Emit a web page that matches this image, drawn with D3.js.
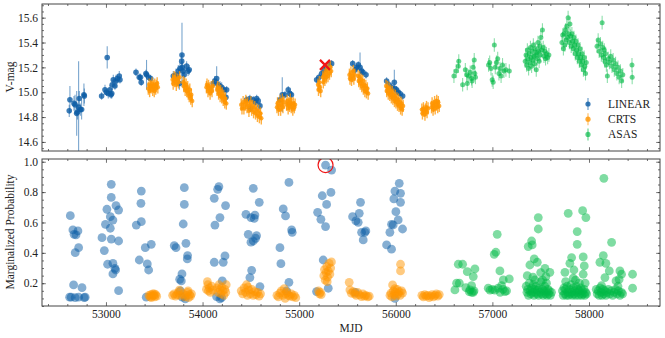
<!DOCTYPE html>
<html>
<head>
<meta charset="utf-8">
<script src="https://cdn.jsdelivr.net/npm/d3@7"></script>
<style>
  body { margin: 0; background: #fff; }
  text { font-family: "Liberation Serif", "DejaVu Serif", serif; fill: #222; }
</style>
</head>
<body>
<svg id="chart" width="665" height="338"></svg>
<script>
// tick labels
const xTicks = [53000, 54000, 55000, 56000, 57000, 58000];
const magTicks = [14.6, 14.8, 15.0, 15.2, 15.4, 15.6];
const probTicks = [0.2, 0.4, 0.6, 0.8, 1.0];
const surveys = ['LINEAR', 'CRTS', 'ASAS'];

// light curves: [mjd, V-mag, err]
const linearMag = [
  [52620, 14.85, 0.05], [52627, 14.94, 0.11], [52669, 14.91, 0.06], [52680, 14.90, 0.08],
  [52697, 14.83, 0.18], [52705, 14.84, 0.06], [52717, 14.88, 0.37], [52724, 14.95, 0.06],
  [52735, 14.86, 0.05], [52748, 14.86, 0.08], [52772, 14.98, 0.09], [52776, 14.97, 0.06],
  [52955, 14.97, 0.03], [52990, 15.02, 0.04], [53005, 15.00, 0.03], [53013, 15.28, 0.09],
  [53024, 14.99, 0.04], [53041, 15.02, 0.04], [53052, 14.98, 0.03], [53060, 14.99, 0.04],
  [53065, 15.06, 0.04], [53076, 15.10, 0.04], [53093, 15.05, 0.03], [53104, 15.09, 0.05],
  [53117, 15.11, 0.03], [53138, 15.13, 0.04], [53145, 15.10, 0.03],
  [53311, 15.16, 0.03], [53345, 15.12, 0.03], [53358, 15.12, 0.03], [53365, 15.08, 0.03],
  [53414, 15.15, 0.03], [53420, 15.14, 0.12], [53442, 15.12, 0.03], [53463, 15.11, 0.03],
  [53697, 15.13, 0.04], [53725, 15.14, 0.05], [53735, 15.12, 0.04], [53749, 15.17, 0.05],
  [53760, 15.07, 0.05], [53766, 15.19, 0.05], [53784, 15.25, 0.06], [53787, 15.30, 0.26],
  [53790, 15.20, 0.05], [53800, 15.17, 0.04], [53810, 15.14, 0.05], [53835, 15.21, 0.04],
  [53850, 15.17, 0.04], [53862, 15.18, 0.04],
  [54111, 15.07, 0.04], [54127, 15.09, 0.04], [54146, 15.11, 0.10], [54163, 15.06, 0.04],
  [54180, 15.05, 0.04], [54198, 15.04, 0.04], [54222, 15.02, 0.03], [54242, 14.96, 0.04],
  [54249, 15.02, 0.03],
  [54456, 14.94, 0.03], [54490, 14.95, 0.03], [54495, 14.87, 0.03], [54525, 14.94, 0.03],
  [54545, 14.92, 0.03], [54560, 14.95, 0.03], [54576, 14.93, 0.03], [54594, 14.89, 0.03],
  [54801, 14.94, 0.03], [54825, 14.98, 0.14], [54853, 14.98, 0.03], [54887, 15.02, 0.03],
  [54904, 14.99, 0.03], [54920, 14.98, 0.03],
  [55181, 15.10, 0.03], [55205, 15.12, 0.03], [55233, 15.15, 0.03], [55260, 15.18, 0.03],
  [55284, 15.19, 0.03], [55308, 15.22, 0.03], [55336, 15.23, 0.03],
  [55554, 15.23, 0.03], [55580, 15.18, 0.03], [55596, 15.20, 0.03], [55612, 15.22, 0.03],
  [55630, 15.20, 0.12], [55647, 15.17, 0.03], [55660, 15.16, 0.03], [55692, 15.14, 0.03],
  [55905, 15.09, 0.03], [55930, 15.06, 0.03], [55957, 15.04, 0.03], [55985, 15.08, 0.10],
  [55990, 15.03, 0.03], [56009, 15.02, 0.03], [56025, 15.00, 0.03], [56043, 14.99, 0.03],
  [56071, 14.97, 0.03],
];

const crtsErr = 0.05;
const crtsMag = [
  [53438, 15.03], [53447, 15.06], [53452, 15.01], [53463, 15.05], [53468, 15.04], [53478, 15.07],
  [53484, 15.02], [53493, 15.05], [53500, 15.01], [53505, 15.06], [53515, 15.03], [53520, 15.05],
  [53530, 15.07], [53537, 15.04],
  [53690, 15.10], [53696, 15.07], [53706, 15.12], [53712, 15.09], [53722, 15.11], [53728, 15.06],
  [53740, 15.10], [53750, 15.08], [53762, 15.12], [53800, 15.08], [53806, 15.05], [53815, 15.07],
  [53820, 15.02], [53830, 15.06], [53836, 15.01], [53846, 15.04], [53852, 14.99], [53862, 14.97],
  [53868, 15.02], [53878, 14.95], [53884, 14.98], [53893, 14.93],
  [54040, 15.04], [54046, 15.06], [54056, 15.01], [54062, 15.05], [54072, 15.03], [54078, 14.99],
  [54090, 15.04], [54098, 15.01], [54108, 15.05], [54150, 15.02], [54156, 15.04], [54166, 14.99],
  [54172, 15.03], [54182, 14.97], [54188, 15.01], [54198, 14.96], [54204, 14.99], [54214, 14.94],
  [54220, 14.97], [54230, 14.92], [54236, 14.95], [54246, 14.91],
  [54400, 14.90], [54408, 14.87], [54420, 14.92], [54428, 14.87], [54440, 14.90], [54448, 14.93],
  [54460, 14.88], [54468, 14.91], [54480, 14.85], [54488, 14.89], [54500, 14.92], [54508, 14.86],
  [54520, 14.89], [54528, 14.84], [54540, 14.88], [54548, 14.83], [54560, 14.86], [54568, 14.81],
  [54580, 14.85], [54588, 14.80], [54600, 14.83], [54608, 14.79],
  [54770, 14.88], [54776, 14.91], [54786, 14.86], [54792, 14.89], [54802, 14.93], [54808, 14.86],
  [54818, 14.90], [54826, 14.94], [54832, 14.88], [54842, 14.92], [54870, 14.90], [54876, 14.93],
  [54886, 14.87], [54892, 14.91], [54902, 14.89], [54908, 14.94], [54918, 14.88], [54924, 14.91],
  [54934, 14.86], [54940, 14.91], [54950, 14.88], [54958, 14.90],
  [55195, 15.06], [55200, 15.02], [55209, 15.08], [55214, 15.04], [55223, 15.01], [55245, 15.12],
  [55250, 15.08], [55260, 15.14], [55266, 15.10], [55276, 15.16], [55282, 15.12], [55292, 15.18],
  [55298, 15.13], [55308, 15.19], [55314, 15.15], [55324, 15.20], [55332, 15.17],
  [55520, 15.14], [55526, 15.11], [55536, 15.16], [55542, 15.10], [55552, 15.13], [55560, 15.17],
  [55566, 15.11], [55576, 15.14], [55610, 15.13], [55616, 15.09], [55626, 15.12], [55632, 15.07],
  [55642, 15.10], [55648, 15.05], [55658, 15.09], [55664, 15.03], [55674, 15.06], [55680, 15.01],
  [55690, 15.05], [55696, 15.00], [55706, 15.03], [55714, 14.99],
  [55900, 15.05], [55906, 15.01], [55916, 15.04], [55922, 14.99], [55932, 15.03], [55938, 14.98],
  [55948, 15.01], [55954, 14.96], [55964, 15.00], [55970, 14.95], [55980, 14.98], [55986, 14.93],
  [55996, 14.97], [56002, 14.92], [56012, 14.95], [56018, 14.90], [56028, 14.94], [56034, 14.89],
  [56044, 14.92], [56050, 14.87], [56060, 14.91], [56066, 14.86], [56076, 14.89],
  [56270, 14.86], [56276, 14.83], [56286, 14.87], [56292, 14.85], [56302, 14.82], [56308, 14.86],
  [56318, 14.88], [56324, 14.84], [56334, 14.87], [56370, 14.88], [56376, 14.91], [56386, 14.86],
  [56392, 14.89], [56402, 14.92], [56408, 14.87], [56418, 14.90], [56424, 14.93], [56434, 14.88],
  [56440, 14.92], [56450, 14.89],
];

const asasErr = 0.055;
const asasMag = [
  [56602, 15.13], [56625, 15.17], [56647, 15.21], [56652, 15.25], [56692, 15.06], [56720, 15.18],
  [56734, 15.14], [56740, 15.07], [56755, 15.13], [56770, 15.16], [56785, 15.11], [56790, 15.09],
  [56800, 15.20], [56812, 15.26], [56818, 15.15], [56825, 15.12],
  [56960, 15.22], [56972, 15.24], [56985, 15.19], [56998, 15.10], [57008, 15.08], [57020, 15.38],
  [57030, 15.20], [57042, 15.24], [57055, 15.27], [57068, 15.15], [57078, 15.19], [57090, 15.13],
  [57105, 15.22], [57120, 15.17], [57140, 15.18], [57175, 15.17],
  [57340, 15.25], [57348, 15.30], [57355, 15.22], [57362, 15.34], [57368, 15.27], [57375, 15.19],
  [57380, 15.31], [57388, 15.24], [57394, 15.36], [57400, 15.28], [57406, 15.21], [57412, 15.33],
  [57418, 15.26], [57424, 15.38], [57430, 15.29], [57436, 15.23], [57442, 15.35], [57448, 15.30],
  [57454, 15.18], [57460, 15.32], [57466, 15.27], [57472, 15.40], [57478, 15.33], [57484, 15.25],
  [57490, 15.37], [57496, 15.30], [57502, 15.44], [57510, 15.34], [57518, 15.50], [57526, 15.36],
  [57534, 15.29], [57542, 15.33], [57550, 15.27], [57560, 15.31], [57572, 15.28], [57585, 15.30],
  [57720, 15.40], [57728, 15.46], [57735, 15.35], [57742, 15.47], [57750, 15.38], [57757, 15.50],
  [57764, 15.42], [57770, 15.53], [57777, 15.44], [57784, 15.60], [57790, 15.47], [57797, 15.40],
  [57803, 15.55], [57810, 15.45], [57816, 15.37], [57823, 15.47], [57830, 15.41], [57837, 15.35],
  [57844, 15.44], [57851, 15.38], [57858, 15.31], [57865, 15.41], [57872, 15.34], [57879, 15.28],
  [57886, 15.38], [57893, 15.31], [57900, 15.25], [57907, 15.35], [57914, 15.28], [57921, 15.22],
  [57928, 15.31], [57935, 15.25], [57942, 15.18], [57950, 15.28], [57957, 15.21], [57964, 15.15],
  [57972, 15.24],
  [58083, 15.37], [58095, 15.42], [58105, 15.33], [58118, 15.39], [58128, 15.30], [58136, 15.56],
  [58142, 15.36], [58150, 15.28], [58158, 15.34], [58165, 15.25], [58172, 15.31], [58180, 15.22],
  [58190, 15.13], [58200, 15.27], [58212, 15.24], [58225, 15.29], [58238, 15.21], [58250, 15.26],
  [58262, 15.18], [58275, 15.23], [58288, 15.15], [58300, 15.20], [58312, 15.12], [58325, 15.17],
  [58338, 15.09], [58350, 15.14],
  [58445, 15.22], [58447, 15.12],
];

// marginalized probability: [mjd, prob]
const linearProb = [
  [52631, 0.645], [52658, 0.551], [52670, 0.522], [52710, 0.544], [52690, 0.518], [52717, 0.434],
  [52682, 0.401], [52665, 0.189], [52752, 0.171], [52624, 0.108], [52640, 0.108], [52682, 0.105],
  [52717, 0.108], [52775, 0.105], [52785, 0.108],
  [53055, 0.851], [53055, 0.765], [53010, 0.687], [53045, 0.638], [53104, 0.711], [53131, 0.682],
  [53072, 0.616], [52995, 0.588], [53045, 0.562], [52959, 0.500], [53055, 0.491], [53131, 0.478],
  [52983, 0.415], [53017, 0.325], [53072, 0.331], [53093, 0.298], [53100, 0.287], [53072, 0.261],
  [53131, 0.151],
  [53366, 0.807], [53362, 0.726], [53366, 0.605], [53314, 0.583], [53407, 0.434], [53469, 0.456],
  [53345, 0.353], [53428, 0.327], [53442, 0.287], [53417, 0.108],
  [53811, 0.829], [53811, 0.719], [53800, 0.590], [53707, 0.448], [53725, 0.434], [53828, 0.463],
  [53845, 0.382], [53842, 0.360], [53787, 0.261], [53763, 0.226], [53780, 0.215], [53770, 0.149],
  [53821, 0.097], [53790, 0.108],
  [54169, 0.836], [54156, 0.818], [54121, 0.759], [54238, 0.711], [54180, 0.632], [54128, 0.583],
  [54121, 0.338], [54214, 0.338], [54232, 0.380], [54204, 0.215], [54145, 0.112], [54180, 0.097],
  [54197, 0.105],
  [54525, 0.825], [54587, 0.733], [54449, 0.654], [54542, 0.649], [54501, 0.632], [54535, 0.627],
  [54473, 0.522], [54559, 0.513], [54549, 0.496], [54525, 0.478], [54501, 0.470], [54508, 0.285],
  [54490, 0.237], [54594, 0.178],
  [54894, 0.864], [54835, 0.689], [54859, 0.643], [54922, 0.551], [54928, 0.535], [54801, 0.434],
  [54811, 0.329], [54894, 0.206], [54870, 0.149],
  [55273, 0.978], [55336, 0.945], [55329, 0.798], [55239, 0.776], [55284, 0.719], [55191, 0.667],
  [55225, 0.621], [55273, 0.573], [55249, 0.353], [55301, 0.167], [55180, 0.145],
  [55635, 0.733], [55622, 0.660], [55553, 0.638], [55587, 0.610], [55611, 0.601], [55646, 0.535],
  [55680, 0.535], [55690, 0.544], [55663, 0.485], [55580, 0.140],
  [56036, 0.858], [55991, 0.807], [56049, 0.792], [55980, 0.755], [56049, 0.733], [56001, 0.671],
  [56025, 0.617], [55956, 0.588], [55973, 0.584], [56070, 0.557], [55939, 0.535], [55905, 0.452],
  [55956, 0.424], [55991, 0.100],
];

const crtsProb = [
  [53445, 0.12], [53455, 0.11], [53465, 0.125], [53475, 0.115], [53485, 0.13], [53495, 0.12],
  [53505, 0.11], [53515, 0.125], [53525, 0.115], [53470, 0.105], [53500, 0.13],
  [53690, 0.12], [53705, 0.13], [53720, 0.115], [53735, 0.125], [53750, 0.14], [53765, 0.12],
  [53800, 0.13], [53815, 0.11], [53830, 0.12], [53845, 0.14], [53855, 0.105], [53865, 0.125],
  [53875, 0.115], [53885, 0.13], [53760, 0.155], [53850, 0.15],
  [54040, 0.16], [54050, 0.21], [54055, 0.19], [54060, 0.15], [54070, 0.17], [54080, 0.14],
  [54095, 0.18], [54105, 0.155], [54150, 0.17], [54160, 0.14], [54170, 0.19], [54180, 0.16],
  [54190, 0.13], [54200, 0.175], [54210, 0.15], [54220, 0.12], [54230, 0.16], [54240, 0.14],
  [54245, 0.19],
  [54400, 0.15], [54415, 0.13], [54430, 0.17], [54445, 0.14], [54455, 0.19], [54465, 0.12],
  [54480, 0.155], [54495, 0.13], [54510, 0.16], [54525, 0.12], [54540, 0.145], [54555, 0.125],
  [54570, 0.14], [54585, 0.115], [54600, 0.13], [54470, 0.175],
  [54770, 0.12], [54785, 0.11], [54800, 0.135], [54815, 0.15], [54830, 0.12], [54845, 0.165],
  [54860, 0.13], [54875, 0.14], [54890, 0.12], [54905, 0.115], [54920, 0.13], [54935, 0.11],
  [54950, 0.12], [54965, 0.105], [54855, 0.10],
  [55200, 0.15], [55210, 0.13], [55220, 0.14], [55228, 0.125], [55255, 0.25], [55262, 0.29],
  [55270, 0.22], [55278, 0.27], [55286, 0.31], [55294, 0.24], [55302, 0.28], [55310, 0.33],
  [55318, 0.26], [55326, 0.30], [55334, 0.34], [55290, 0.21],
  [55518, 0.206], [55525, 0.156], [55540, 0.134], [55560, 0.145], [55575, 0.13], [55590, 0.12],
  [55605, 0.14], [55625, 0.123], [55645, 0.112], [55660, 0.13], [55675, 0.115], [55690, 0.12],
  [55710, 0.11], [55725, 0.115],
  [55967, 0.189], [56049, 0.325], [56049, 0.281], [55940, 0.12], [55950, 0.135], [55960, 0.11],
  [55975, 0.15], [55985, 0.125], [55995, 0.14], [56005, 0.115], [56015, 0.16], [56025, 0.13],
  [56035, 0.145], [56045, 0.12], [56060, 0.15], [56070, 0.135], [55990, 0.165],
  [56270, 0.12], [56285, 0.11], [56300, 0.125], [56315, 0.115], [56330, 0.12], [56345, 0.105],
  [56360, 0.115], [56375, 0.125], [56390, 0.11], [56405, 0.12], [56420, 0.13], [56435, 0.115],
  [56450, 0.125],
];

const asasProb = [
  [56647, 0.325], [56692, 0.325], [56740, 0.276], [56819, 0.294], [56802, 0.244], [56630, 0.200],
  [56658, 0.200], [56612, 0.156], [56726, 0.171], [56785, 0.184], [56768, 0.156], [56785, 0.140],
  [56802, 0.140], [56760, 0.145], [56810, 0.150],
  [57050, 0.522], [57019, 0.390], [57036, 0.404], [57078, 0.281], [57175, 0.228], [57113, 0.222],
  [56957, 0.167], [56975, 0.155], [57025, 0.155], [57060, 0.167], [57095, 0.184], [57130, 0.145],
  [57147, 0.150], [57000, 0.160], [57080, 0.140], [57110, 0.160],
  [57475, 0.632], [57475, 0.557], [57406, 0.478], [57371, 0.441], [57412, 0.452], [57433, 0.360],
  [57388, 0.320], [57465, 0.338], [57544, 0.298], [57595, 0.272], [57554, 0.244], [57361, 0.250],
  [57440, 0.222], [57350, 0.18], [57358, 0.14], [57366, 0.16], [57374, 0.12], [57382, 0.20],
  [57390, 0.15], [57398, 0.13], [57406, 0.17], [57414, 0.14], [57422, 0.19], [57430, 0.12],
  [57438, 0.16], [57446, 0.14], [57454, 0.18], [57462, 0.13], [57470, 0.155], [57478, 0.12],
  [57486, 0.17], [57494, 0.14], [57502, 0.21], [57510, 0.13], [57518, 0.16], [57526, 0.12],
  [57534, 0.15], [57542, 0.18], [57550, 0.13], [57558, 0.145], [57566, 0.12], [57574, 0.16],
  [57582, 0.13], [57590, 0.15], [57600, 0.12], [57612, 0.14], [57500, 0.27], [57420, 0.24],
  [57520, 0.22], [57560, 0.20],
  [57785, 0.660], [57934, 0.678], [57968, 0.632], [57878, 0.540], [57878, 0.456], [57820, 0.369],
  [57940, 0.373], [57802, 0.331], [57844, 0.287], [57951, 0.314], [57751, 0.272], [57940, 0.259],
  [57837, 0.233], [57758, 0.211], [57960, 0.200], [57725, 0.15], [57733, 0.12], [57741, 0.17],
  [57749, 0.13], [57757, 0.16], [57765, 0.12], [57773, 0.18], [57781, 0.14], [57789, 0.12],
  [57797, 0.16], [57805, 0.13], [57813, 0.19], [57821, 0.14], [57829, 0.12], [57837, 0.17],
  [57845, 0.13], [57853, 0.15], [57861, 0.12], [57869, 0.18], [57877, 0.14], [57885, 0.16],
  [57893, 0.12], [57901, 0.15], [57909, 0.13], [57917, 0.17], [57925, 0.12], [57933, 0.15],
  [57941, 0.13], [57949, 0.16], [57957, 0.12], [57965, 0.14], [57975, 0.13], [57860, 0.22],
  [57900, 0.20],
  [58154, 0.891], [58234, 0.469], [58148, 0.382], [58113, 0.338], [58175, 0.331], [58210, 0.281],
  [58320, 0.281], [58337, 0.259], [58165, 0.237], [58280, 0.215], [58312, 0.225], [58130, 0.184],
  [58075, 0.16], [58085, 0.13], [58095, 0.15], [58105, 0.12], [58115, 0.17], [58125, 0.14],
  [58135, 0.12], [58145, 0.16], [58155, 0.13], [58165, 0.15], [58175, 0.12], [58185, 0.14],
  [58200, 0.16], [58215, 0.13], [58230, 0.15], [58245, 0.12], [58260, 0.14], [58275, 0.16],
  [58290, 0.13], [58305, 0.15], [58320, 0.12], [58335, 0.14], [58348, 0.13], [58300, 0.18],
  [58451, 0.259], [58451, 0.167],
];

// flagged epoch (red cross on top, red ring on bottom)
const flagMag = [55267, 15.22];
const flagProb = [55273, 0.978];

const COLORS = { LINEAR: '#0C5DA5', CRTS: '#FF9500', ASAS: '#00B945' };

const svg = d3.select('#chart');

const x = d3.scaleLinear().domain([52338, 58735]).range([42, 660]);
const yMag = d3.scaleLinear().domain([14.527, 15.71]).range([151, 4]);
const yProb = d3.scaleLinear().domain([0.05, 1.018]).range([306, 159]);

const xMinor = d3.range(52400, 58736, 200).filter(v => v % 1000 !== 0);
const magMinor = d3.range(14.55, 15.71, 0.05);
const probMinor = d3.range(0.05, 1.01, 0.05);

function drawFrame(g, y, yMajor, yMinor, showXLabels) {
  const [x0, x1] = x.range();
  const [yb, yt] = y.range();

  const axes = [
    { make: d3.axisBottom, scale: x, pos: `translate(0,${yb})`, major: xTicks, minor: xMinor,
      fmt: showXLabels ? d3.format('d') : () => '' },
    { make: d3.axisTop, scale: x, pos: `translate(0,${yt})`, major: xTicks, minor: xMinor, fmt: () => '' },
    { make: d3.axisLeft, scale: y, pos: `translate(${x0},0)`, major: yMajor, minor: yMinor,
      fmt: d3.format('.1f') },
    { make: d3.axisRight, scale: y, pos: `translate(${x1},0)`, major: yMajor, minor: yMinor, fmt: () => '' },
  ];

  axes.forEach(a => {
    g.append('g')
      .attr('transform', a.pos)
      .call(a.make(a.scale).tickValues(a.minor).tickSize(-2).tickFormat(''))
      .call(s => s.select('.domain').remove());
    g.append('g')
      .attr('transform', a.pos)
      .call(a.make(a.scale).tickValues(a.major).tickSize(-3.8).tickPadding(4).tickFormat(a.fmt))
      .call(s => s.select('.domain').remove());
  });

  g.selectAll('.tick line').attr('stroke', '#333').attr('stroke-width', 0.7);
  g.selectAll('.tick text')
    .attr('font-family', '"Liberation Serif", serif')
    .attr('font-size', 11.5)
    .attr('fill', '#222');

  g.append('rect')
    .attr('x', x0).attr('y', yt)
    .attr('width', x1 - x0).attr('height', yb - yt)
    .attr('fill', 'none')
    .attr('stroke', '#444')
    .attr('stroke-width', 1);
}

function errorbars(g, data, y, err, color, r, opts) {
  const grp = g.append('g');
  grp.selectAll('line')
    .data(data)
    .join('line')
    .attr('x1', d => x(d[0])).attr('x2', d => x(d[0]))
    .attr('y1', d => y(d[1] - (d[2] !== undefined ? d[2] : err)))
    .attr('y2', d => y(d[1] + (d[2] !== undefined ? d[2] : err)))
    .attr('stroke', color)
    .attr('stroke-width', opts.lw)
    .attr('stroke-opacity', opts.barAlpha);
  grp.selectAll('circle')
    .data(data)
    .join('circle')
    .attr('cx', d => x(d[0]))
    .attr('cy', d => y(d[1]))
    .attr('r', r)
    .attr('fill', color)
    .attr('fill-opacity', opts.alpha);
}

function scatter(g, data, y, color, r, alpha) {
  g.append('g').selectAll('circle')
    .data(data)
    .join('circle')
    .attr('cx', d => x(d[0]))
    .attr('cy', d => y(d[1]))
    .attr('r', r)
    .attr('fill', color)
    .attr('fill-opacity', alpha);
}

// top panel: light curve
const topPanel = svg.append('g');
svg.append('clipPath').attr('id', 'clipTop')
  .append('rect').attr('x', 42).attr('y', 4).attr('width', 618).attr('height', 147);
const topPlot = topPanel.append('g').attr('clip-path', 'url(#clipTop)');

errorbars(topPlot, linearMag, yMag, 0.03, COLORS.LINEAR, 2.8, { lw: 1.1, barAlpha: 0.55, alpha: 0.8 });
errorbars(topPlot, crtsMag, yMag, crtsErr, COLORS.CRTS, 2.2, { lw: 1.4, barAlpha: 0.75, alpha: 0.8 });
errorbars(topPlot, asasMag, yMag, asasErr, COLORS.ASAS, 2.5, { lw: 1.1, barAlpha: 0.45, alpha: 0.6 });

// red cross
const cx = x(flagMag[0]), cy = yMag(flagMag[1]);
topPlot.append('path')
  .attr('d', `M${cx - 5},${cy - 5}L${cx + 5},${cy + 5}M${cx - 5},${cy + 5}L${cx + 5},${cy - 5}`)
  .attr('stroke', '#f01414')
  .attr('stroke-width', 2.2);

drawFrame(topPanel, yMag, magTicks, magMinor, false);

// legend
const legend = topPanel.append('g');
surveys.forEach((name, i) => {
  const ly = 104 + i * 15.2;
  const c = COLORS[name];
  legend.append('line')
    .attr('x1', 588).attr('x2', 588).attr('y1', ly - 6).attr('y2', ly + 6)
    .attr('stroke', c).attr('stroke-width', 1.3).attr('stroke-opacity', 0.55);
  legend.append('circle')
    .attr('cx', 588).attr('cy', ly).attr('r', 2.6)
    .attr('fill', c).attr('fill-opacity', name === 'ASAS' ? 0.65 : 0.8);
  legend.append('text')
    .attr('x', 608).attr('y', ly + 4)
    .attr('font-size', 11.5)
    .text(name);
});

// bottom panel: probabilities
const botPanel = svg.append('g');
svg.append('clipPath').attr('id', 'clipBot')
  .append('rect').attr('x', 42).attr('y', 159).attr('width', 618).attr('height', 147);
const botPlot = botPanel.append('g').attr('clip-path', 'url(#clipBot)');

scatter(botPlot, linearProb, yProb, COLORS.LINEAR, 4.4, 0.5);
scatter(botPlot, crtsProb, yProb, COLORS.CRTS, 4.4, 0.5);
scatter(botPlot, asasProb, yProb, COLORS.ASAS, 4.4, 0.5);

botPlot.append('circle')
  .attr('cx', x(flagProb[0]))
  .attr('cy', yProb(flagProb[1]))
  .attr('r', 7.5)
  .attr('fill', 'none')
  .attr('stroke', '#f01414')
  .attr('stroke-width', 1.2);

drawFrame(botPanel, yProb, probTicks, probMinor, true);

// axis titles
svg.append('text')
  .attr('transform', 'translate(14,77) rotate(-90)')
  .attr('text-anchor', 'middle')
  .attr('font-size', 11.5)
  .text('V-mag');

svg.append('text')
  .attr('transform', 'translate(14,232) rotate(-90)')
  .attr('text-anchor', 'middle')
  .attr('font-size', 11.5)
  .text('Marginalized Probability');

svg.append('text')
  .attr('x', 351)
  .attr('y', 332)
  .attr('text-anchor', 'middle')
  .attr('font-size', 11.5)
  .text('MJD');
</script>
</body>
</html>
